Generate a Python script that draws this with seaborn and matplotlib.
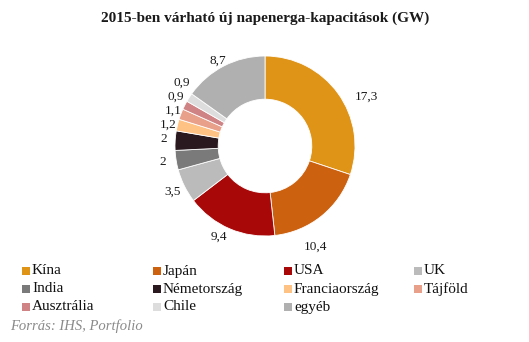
import numpy as np
import matplotlib
matplotlib.use("Agg")
import matplotlib.pyplot as plt
import seaborn as sns
from matplotlib.patches import Rectangle

sns.set_theme(style="white")
plt.rcParams["font.family"] = ["Liberation Serif", "DejaVu Serif"]

categories = ["Kína", "Japán", "USA", "UK", "India", "Németország",
              "Franciaország", "Tájföld", "Ausztrália", "Chile", "egyéb"]
values = [17.3, 10.4, 9.4, 3.5, 2, 2, 1.2, 1.1, 0.9, 0.9, 8.7]
value_labels = ["17,3", "10,4", "9,4", "3,5", "2", "2", "1,2", "1,1", "0,9", "0,9", "8,7"]
colors = ["#DF9418", "#CC6110", "#A80808", "#BBBBBB", "#7A7A7A", "#2A1A20",
          "#FFC285", "#E9A08A", "#D08384", "#DDDDDD", "#B0B0B0"]
title = "2015-ben várható új napenerga-kapacitások (GW)"
source = "Forrás: IHS, Portfolio"

W, H = 529, 342
fig = plt.figure(figsize=(W / 100, H / 100), dpi=100)
fig.patch.set_facecolor("white")

# donut: centre (265, 146) px, outer radius 90 px
cx, cy, R = 265, 146, 90
ax = fig.add_axes([(cx - R) / W, (H - cy - R) / H, 2 * R / W, 2 * R / H])
wedges, _ = ax.pie(values, colors=colors, startangle=90, counterclock=False,
                   radius=1.0, wedgeprops=dict(width=0.48, edgecolor="white", linewidth=0.6))
ax.set_xlim(-1, 1)
ax.set_ylim(-1, 1)
ax.set_aspect("equal")
ax.axis("off")

# value labels just outside each wedge; the thin slices on the left are
# fanned out slightly so their labels stack without colliding
total = sum(values)
cum = np.cumsum([0] + values[:-1])
label_r = [1.25, 1.25, 1.13, 1.15, 1.15, 1.13, 1.10, 1.09, 1.13, 1.16, 1.08]
label_shift = [10, 12, 4, 0, 0, 0.6, -1.3, 0.2, 1.7, 4.7, -2]
for i, (c, v, lab) in enumerate(zip(cum, values, value_labels)):
    ang = np.deg2rad((c + v / 2) / total * 360 + label_shift[i])
    x = label_r[i] * np.sin(ang)
    y = label_r[i] * np.cos(ang)
    ax.text(x, y, lab, ha="center", va="center", fontsize=9.5, color="#1a1a1a",
            clip_on=False)

fig.text(265 / W, 1 - 18 / H, title, ha="center", va="center",
         fontsize=11, fontweight="bold", color="#1a1a1a")

# legend in a 4-column grid
col_x = [22, 153, 284, 414]
row_y = [271, 289, 307]
for i, (name, col) in enumerate(zip(categories, colors)):
    r, c = divmod(i, 4)
    x0, y0 = col_x[c], row_y[r]
    fig.patches.append(Rectangle((x0 / W, (H - y0 - 4) / H), 8 / W, 8 / H,
                                 transform=fig.transFigure, facecolor=col,
                                 edgecolor="none"))
    fig.text((x0 + 10) / W, 1 - y0 / H, name, ha="left", va="center",
             fontsize=11, color="#111111")

fig.text(10 / W, 1 - 326 / H, source, ha="left", va="center",
         fontsize=10.5, style="italic", color="#8a8a8a")

fig.savefig("out.png", dpi=100, facecolor="white")
